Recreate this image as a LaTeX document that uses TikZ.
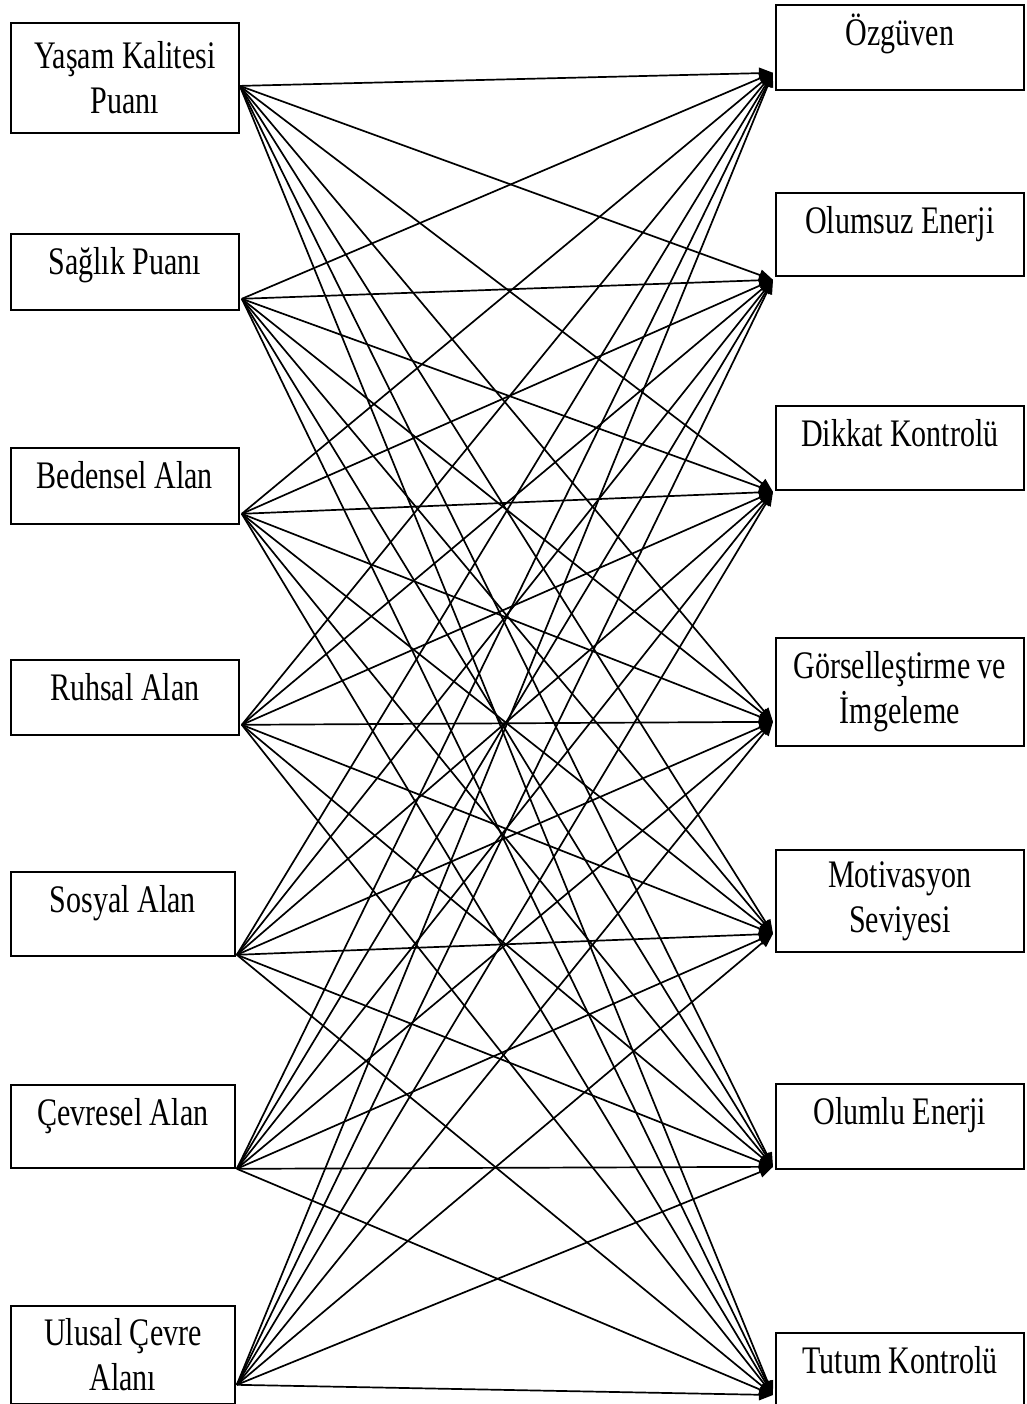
\documentclass[tikz,border=0pt]{standalone}
\usepackage{fontspec}
\setmainfont{Liberation Serif}[FakeStretch=0.77]
\usetikzlibrary{arrows.meta,calc}

\begin{document}
\begin{tikzpicture}[
  x=0.5pt, y=-0.5pt,
  >={Triangle[length=7pt,width=5.5pt]},
  box/.style={draw, line width=0.9pt, anchor=north west, align=center,
              inner xsep=2pt, inner ysep=0pt, minimum width=#1,
              font=\fontsize{19.5}{22.5}\selectfont},
  one/.style={text height=20.5pt, text depth=#1},
  arr/.style={->, line width=0.85pt},
]
\useasboundingbox (0,0) rectangle (1027,1404);
%% Left column: quality of life scores
\node[box=114pt, minimum height=55pt] (yk) at (10,22)
  {Yaşam Kalitesi\\Puanı};
\node[box=114pt, one=17.5pt] (sp) at (10,233) {Sağlık Puanı};
\node[box=114pt, one=17.5pt] (ba) at (10,447) {Bedensel Alan};
\node[box=114pt, one=17pt] (ra) at (10,659) {Ruhsal Alan};
\node[box=112pt, one=21.5pt] (so) at (10,871) {Sosyal Alan};
\node[box=112pt, one=21pt] (ca) at (10,1084) {Çevresel Alan};
\node[box=112pt, minimum height=49pt] (uc) at (10,1305)
  {Ulusal Çevre\\Alanı};
%% Right column: mental skills
\node[box=124pt, one=22pt] (oz) at (775,4) {Özgüven};
\node[box=124pt, one=21pt] (oe) at (775,192) {Olumsuz Enerji};
\node[box=124pt, one=21.5pt] (dk) at (775,405) {Dikkat Kontrolü};
\node[box=124pt, minimum height=54pt] (gi) at (775,637)
  {Görselleştirme ve\\İmgeleme};
\node[box=124pt, minimum height=51pt] (ms) at (775,849)
  {Motivasyon\\Seviyesi};
\node[box=124pt, one=22pt] (ol) at (775,1083) {Olumlu Enerji};
\node[box=124pt, one=25pt] (tk) at (775,1332) {Tutum Kontrolü};
%% Ports where the lines meet
\coordinate (s1) at ([shift={(0,8)}]yk.east);
\coordinate (s2) at ([shift={(2,-12)}]sp.south east);
\coordinate (s3) at ([shift={(2,-11)}]ba.south east);
\coordinate (s4) at ([shift={(2,-11)}]ra.south east);
\coordinate (s5) at ([shift={(1,-2)}]so.south east);
\coordinate (s6) at ([shift={(1,0)}]ca.south east);
\coordinate (s7) at ([shift={(1,-20)}]uc.south east);
\coordinate (t1) at ([shift={(-2,-18)}]oz.south west);
\coordinate (t2) at ([shift={(-2,3)}]oe.south west);
\coordinate (t3) at ([shift={(-2,1)}]dk.south west);
\coordinate (t4) at ([shift={(-2,-25)}]gi.south west);
\coordinate (t5) at ([shift={(-2,-19)}]ms.south west);
\coordinate (t6) at ([shift={(-2,-3)}]ol.south west);
\coordinate (t7) at ([shift={(-2,63)}]tk.north west);
%% Every score to every skill
\foreach \i in {1,...,7}
  \foreach \j in {1,...,7}
    \draw[arr] (s\i) -- (t\j);
\end{tikzpicture}
\end{document}
